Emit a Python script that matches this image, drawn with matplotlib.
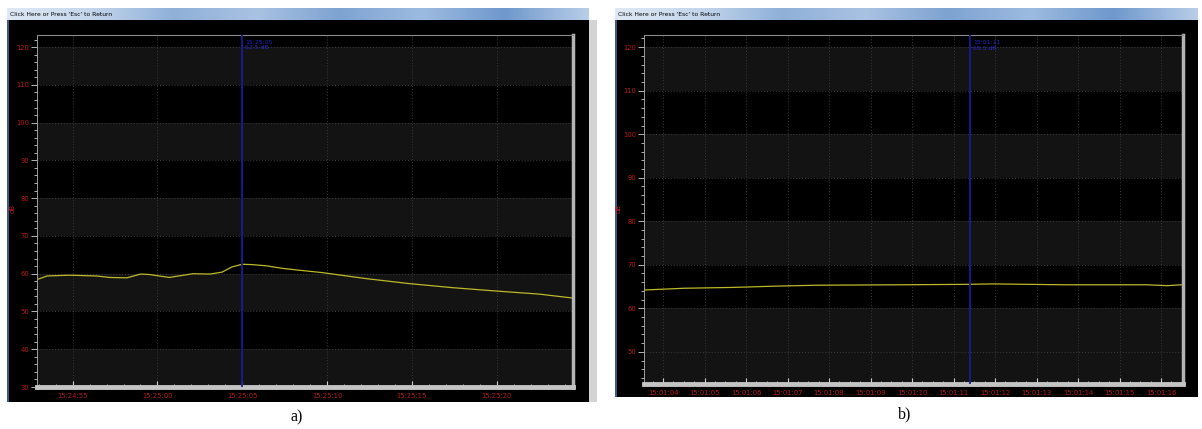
import numpy as np
import matplotlib
matplotlib.use("Agg")
import matplotlib.pyplot as plt
from matplotlib.patches import Rectangle
from matplotlib.colors import LinearSegmentedColormap

# ---- data ----
# panel a) : seconds after 15:24:55, level in dB
a_sec = [-2.0, -1.5, -0.2, 1.4, 2.2, 3.2, 4.0, 4.5, 5.7, 7.1, 8.1, 8.8, 9.4, 10.0,
         10.6, 11.4, 12.4, 13.4, 14.7, 17.3, 19.8, 22.4, 25.0, 27.5, 29.4]
a_db = [58.6, 59.4, 59.6, 59.4, 59.0, 58.9, 59.9, 59.8, 59.0, 60.0, 59.9, 60.4, 61.8, 62.5,
        62.4, 62.1, 61.4, 60.9, 60.3, 58.7, 57.4, 56.3, 55.4, 54.6, 53.6]
a_ticks = [0, 5, 10, 15, 20, 25]
a_ticklabels = ['15:24:55', '15:25:00', '15:25:05', '15:25:10', '15:25:15', '15:25:20']
a_yticks = [30, 40, 50, 60, 70, 80, 90, 100, 110, 120]
a_cursor = 10.0
a_cursor_text = '15:25:05\n62.5 dB'

# panel b) : seconds after 15:01:00, level in dB
b_sec = [3.55, 4.5, 5.7, 6.75, 7.7, 9.7, 11.3, 11.95, 13.7, 15.65, 16.15, 16.5]
b_db = [64.2, 64.6, 64.8, 65.1, 65.3, 65.4, 65.5, 65.6, 65.4, 65.4, 65.2, 65.4]
b_ticks = list(range(4, 17))
b_ticklabels = ['15:01:%02d' % s for s in b_ticks]
b_yticks = [50, 60, 70, 80, 90, 100, 110, 120]
b_cursor = 11.4
b_cursor_text = '15:01:11\n65.5 dB'

W, H = 1202, 429
fig = plt.figure(figsize=(W / 100, H / 100), dpi=100)
fig.patch.set_facecolor('white')


def box(x0, y0, x1, y1):
    # pixel box (top-left origin) -> figure fraction rect
    return [x0 / W, 1 - y1 / H, (x1 - x0) / W, (y1 - y0) / H]


def frect(x0, y0, x1, y1, color, z=-2):
    l, b, w, h = box(x0, y0, x1, y1)
    fig.patches.append(Rectangle((l, b), w, h, transform=fig.transFigure,
                                 facecolor=color, edgecolor='none', zorder=z))


bar_cmap = LinearSegmentedColormap.from_list(
    'bar', ['#dfe9f5', '#c4d6ec', '#8fb0d8', '#a9c2e2', '#7ea3d1', '#9dbbe0', '#6f98cc', '#b8cde8'])


def screen(x0, x1, y_bottom, title):
    frect(x0, 20, x1, y_bottom, 'black')
    frect(x0, 20, x0 + 2, y_bottom, '#3a5a8a', -1)
    tb = fig.add_axes(box(x0, 8, x1, 20))
    tb.imshow(np.linspace(0, 1, 256)[None, :], aspect='auto', cmap=bar_cmap)
    tb.axis('off')
    fig.text((x0 + 3) / W, 1 - 14 / H, title, fontsize=4.3, color='black',
             va='center', ha='left', family='DejaVu Sans')


screen(7, 589, 402, "Click Here or Press 'Esc' to Return")
frect(589, 20, 597, 402, '#d4d4d4')
screen(615, 1198, 397, "Click Here or Press 'Esc' to Return")

red = '#b81a1a'
band = '#131313'


def scope(rect, sec, db, ticks, ticklabels, yticks, ylim, xlim, minor_x, cursor, ctext, ylab_x):
    ax = fig.add_axes(box(*rect))
    ax.set_facecolor('black')
    # alternating grey bands between major y ticks
    for lo, hi in zip(yticks[:-1], yticks[1:]):
        if (hi // 10) % 2 == 0 and hi != yticks[0]:
            ax.axhspan(lo, hi, color=band, lw=0, zorder=0)
    if (yticks[0] // 10) % 2 == 1:
        ax.axhspan(ylim[0], yticks[0], color=band, lw=0, zorder=0)
    ax.plot(sec, db, color='#bdb82a', lw=0.9, zorder=3)
    ax.axvline(cursor, color='#1a1a9a', lw=1.3, zorder=4)
    ax.text(cursor + (xlim[1] - xlim[0]) * 0.006, ylim[1] - 1.2, ctext, color='#2626c8',
            fontsize=4.4, va='top', ha='left', zorder=5, linespacing=1.15)
    ax.set_xlim(*xlim)
    ax.set_ylim(*ylim)
    ax.set_xticks(ticks)
    ax.set_xticklabels(ticklabels)
    ax.set_xticks(np.arange(xlim[0] - xlim[0] % minor_x + minor_x, xlim[1], minor_x), minor=True)
    ax.set_yticks(yticks)
    ax.set_yticks(np.arange(ylim[0] - ylim[0] % 2 + 2, ylim[1], 2), minor=True)
    ax.grid(True, which='major', color='#3a3a3a', ls=(0, (1, 2)), lw=0.7)
    ax.tick_params(axis='both', which='both', labelsize=4.9, labelcolor=red, color='#d0d0d0')
    ax.tick_params(axis='x', which='major', direction='in', length=4, width=0.8, pad=4.5)
    ax.tick_params(axis='x', which='minor', direction='in', length=2.5, width=0.6)
    ax.tick_params(axis='y', which='major', direction='out', length=4, width=0.6, pad=1.5)
    ax.tick_params(axis='y', which='minor', direction='out', length=2.5, width=0.6)
    ax.spines['top'].set_color('#8a8a8a')
    ax.spines['top'].set_linewidth(0.8)
    ax.spines['left'].set_color('#b0b0b0')
    ax.spines['left'].set_linewidth(0.6)
    ax.spines['right'].set_color('#b4b4b4')
    ax.spines['right'].set_linewidth(2.5)
    ax.spines['bottom'].set_color('#c4c4c4')
    ax.spines['bottom'].set_linewidth(3.5)
    fig.text(ylab_x / W, 1 - 208 / H, 'dB', color=red, fontsize=5, rotation=90,
             ha='center', va='center')
    return ax


scope((37, 35, 573, 387), a_sec, a_db, a_ticks, a_ticklabels, a_yticks,
      (30, 123.2), (-2.1, 29.5), 1.0, a_cursor, a_cursor_text, 13)
scope((644, 35, 1183, 384), b_sec, b_db, b_ticks, b_ticklabels, b_yticks,
      (42.6, 122.8), (3.54, 16.53), 0.25, b_cursor, b_cursor_text, 619)

fig.text(297 / W, 1 - 417 / H, 'a)', fontsize=11.5, family='Liberation Serif',
         ha='center', va='center')
fig.text(905 / W, 1 - 414 / H, 'b)', fontsize=11.5, family='Liberation Serif',
         ha='center', va='center')

fig.savefig('out.png', dpi=100, facecolor='white')
